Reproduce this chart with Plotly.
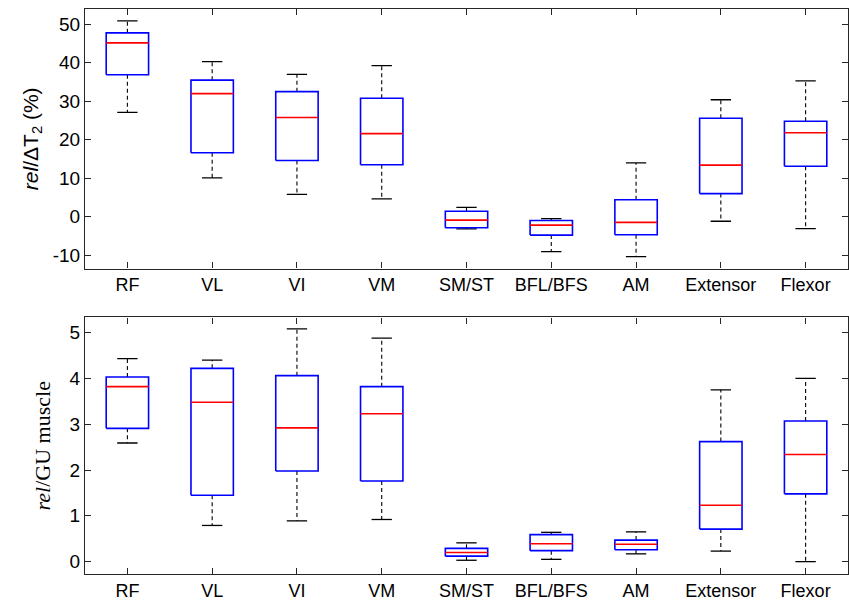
import plotly.graph_objects as go
from plotly.subplots import make_subplots

categories = ["RF", "VL", "VI", "VM", "SM/ST", "BFL/BFS", "AM", "Extensor", "Flexor"]

# Panel 1: rel/ΔT2 (%)
t2_upper = [50.9, 40.3, 37.0, 39.3, 2.4, -0.5, 14.0, 30.4, 35.3]
t2_q3 = [47.8, 35.5, 32.5, 30.8, 1.4, -1.0, 4.4, 25.6, 24.8]
t2_median = [45.2, 32.0, 25.8, 21.6, -0.9, -2.2, -1.5, 13.4, 21.8]
t2_q1 = [36.9, 16.6, 14.6, 13.5, -2.9, -4.8, -4.7, 6.0, 13.1]
t2_lower = [27.1, 10.1, 5.8, 4.6, -3.2, -9.1, -10.4, -1.2, -3.1]

# Panel 2: rel/GU muscle
gu_upper = [4.43, 4.40, 5.08, 4.88, 0.41, 0.64, 0.65, 3.75, 4.00]
gu_q3 = [4.03, 4.22, 4.06, 3.82, 0.29, 0.59, 0.47, 2.62, 3.07]
gu_median = [3.82, 3.48, 2.92, 3.23, 0.20, 0.39, 0.38, 1.23, 2.34]
gu_q1 = [2.91, 1.45, 1.98, 1.76, 0.12, 0.24, 0.26, 0.71, 1.48]
gu_lower = [2.59, 0.79, 0.89, 0.92, 0.03, 0.05, 0.17, 0.23, 0.00]

t2_ticks = [-10, 0, 10, 20, 30, 40, 50]
t2_tick_labels = ["-10", "0", "10", "20", "30", "40", "50"]
gu_ticks = [0, 1, 2, 3, 4, 5]
gu_tick_labels = ["0", "1", "2", "3", "4", "5"]

BOX_HALF = 0.25
CAP_HALF = 0.12
AXIS_COLOR = "#262626"
FONT = "Liberation Sans, Arial, sans-serif"

fig = make_subplots(rows=2, cols=1, vertical_spacing=0.0866)


def add_panel(row, upper, q3, med, q1, lower):
    positions = list(range(1, len(categories) + 1))
    wx, wy, cx, cy, bx, by, mx, my = [], [], [], [], [], [], [], []
    for p, u, a, m, b, lo in zip(positions, upper, q3, med, q1, lower):
        wx += [p, p, None, p, p, None]
        wy += [a, u, None, b, lo, None]
        cx += [p - CAP_HALF, p + CAP_HALF, None, p - CAP_HALF, p + CAP_HALF, None]
        cy += [u, u, None, lo, lo, None]
        bx += [p - BOX_HALF, p + BOX_HALF, p + BOX_HALF, p - BOX_HALF, p - BOX_HALF, None]
        by += [b, b, a, a, b, None]
        mx += [p - BOX_HALF, p + BOX_HALF, None]
        my += [m, m, None]
    fig.add_trace(go.Scatter(x=wx, y=wy, mode="lines", showlegend=False, hoverinfo="skip",
                             line=dict(color="black", width=1.1, dash="4px,3px")), row=row, col=1)
    fig.add_trace(go.Scatter(x=cx, y=cy, mode="lines", showlegend=False, hoverinfo="skip",
                             line=dict(color="black", width=1.3)), row=row, col=1)
    fig.add_trace(go.Scatter(x=bx, y=by, mode="lines", showlegend=False, hoverinfo="skip",
                             line=dict(color="#0000ff", width=1.6)), row=row, col=1)
    fig.add_trace(go.Scatter(x=mx, y=my, mode="lines", showlegend=False, hoverinfo="skip",
                             line=dict(color="#ff0000", width=1.6)), row=row, col=1)


add_panel(1, t2_upper, t2_q3, t2_median, t2_q1, t2_lower)
add_panel(2, gu_upper, gu_q3, gu_median, gu_q1, gu_lower)

common_x = dict(
    range=[0.5, len(categories) + 0.5],
    tickvals=list(range(1, len(categories) + 1)),
    ticktext=categories,
    ticks="inside", ticklen=6, tickcolor=AXIS_COLOR, tickwidth=1,
    showline=True, linecolor=AXIS_COLOR, linewidth=1.2, mirror="ticks",
    showgrid=False, zeroline=False, automargin=False,
    tickfont=dict(family=FONT, size=18, color="black"),
)
fig.update_xaxes(**common_x, row=1, col=1)
fig.update_xaxes(**common_x, row=2, col=1)

common_y = dict(
    ticks="inside", ticklen=6, tickcolor=AXIS_COLOR, tickwidth=1,
    showline=True, linecolor=AXIS_COLOR, linewidth=1.2, mirror="ticks",
    showgrid=False, zeroline=False, automargin=False,
    tickfont=dict(family=FONT, size=19, color="black"),
)
fig.update_yaxes(**common_y, range=[-13.5, 54], tickvals=t2_ticks, ticktext=t2_tick_labels,
                 title=dict(text="<i>rel</i>/ΔT<sub>2</sub> (%)", standoff=8,
                            font=dict(family=FONT, size=21, color="black")),
                 row=1, col=1)
fig.update_yaxes(**common_y, range=[-0.27, 5.33], tickvals=gu_ticks, ticktext=gu_tick_labels,
                 title=dict(text="<i>rel</i>/GU muscle", standoff=12,
                            font=dict(family="Liberation Serif, Times New Roman, serif", size=22, color="black")),
                 row=2, col=1)

fig.update_layout(
    width=849, height=601,
    margin=dict(l=85, r=1, t=9, b=27),
    paper_bgcolor="white", plot_bgcolor="white",
)
fig.update_yaxes(domain=[0.5406, 1.0], row=1, col=1)
fig.update_yaxes(domain=[0.0, 0.454], row=2, col=1)

fig.write_html(
    "out.html",
    config={"displayModeBar": False},
    post_script="document.body.style.margin='0';document.body.style.overflow='hidden';",
)
